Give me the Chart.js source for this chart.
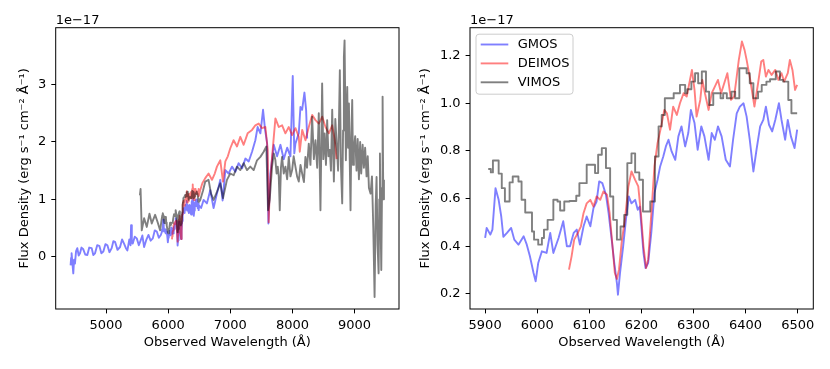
<!DOCTYPE html>
<html>
<head>
<meta charset="utf-8">
<script src="https://cdn.jsdelivr.net/npm/chart.js@4.4.1/dist/chart.umd.min.js"></script>
<style>
  body { margin: 0; background: #fff; }
  .panel { position: absolute; top: 0; width: 415px; height: 369px; }
</style>
</head>
<body>
<div class="panel" style="left:0"><canvas id="leftChart" width="415" height="369"></canvas></div>
<div class="panel" style="left:415px"><canvas id="rightChart" width="415" height="369"></canvas></div>
<script>
// spectra, flux in units of 1e-17 erg/s/cm2/A
const gmosWave = [4430,4438,4446,4458,4473,4486,4500,4518,4538,4560,4581,4605,4634,4665,4699,4730,4769,4795,4823,4858,
  4892,4925,4957,4990,5022,5055,5091,5118,5145,5185,5226,5258,5290,5320,5344,5375,5395,5403,5415,5430,
  5462,5495,5528,5559,5585,5613,5650,5683,5718,5753,5785,5817,5850,5882,
  5900,5903,5910,5914,5920,5926,5931,5935,5942,5950,5956,5964,5974,5980,5986,5993,5997,6002,6009,6018,6025,6031,6041,6050,6057,6063,6070,6076,6082,6089,
  6095,6102,6108,6114,6119,6125,6132,6137,6143,6148,6153,6155,6159,6165,6171,6176,6181,6188,6193,6197,6204,6208,6213,6219,6225,6231,6236,6242,6247,6252,
  6258,6265,6271,6277,6284,6290,6295,6302,6308,6315,6321,6329,6335,6341,6347,6354,6362,6370,6376,6383,6389,6396,6402,6408,6415,6421,6428,6434,6439,6445,
  6451,6457,6464,6469,6476,6481,6487,6494,6499,
  6530,6570,6624,6677,6731,6785,6839,6876,6920,6973,7027,7081,7134,7189,7243,7296,7350,7403,7440,7484,
  7527,7560,7592,7613,7645,7699,7753,7807,7860,7915,7968,8005,8030,8048,8102,8129,8156,8193,8220,8237];
const gmosFlux = [-0.15,-0.02,0.06,-0.10,-0.29,-0.05,-0.12,0.10,0.15,0.02,0.06,0.16,0.13,0.04,0.03,0.16,0.15,0.03,0.06,0.20,
  0.19,0.06,0.09,0.22,0.20,0.08,0.15,0.27,0.26,0.12,0.17,0.30,0.23,0.15,0.11,0.30,0.20,0.55,0.25,0.23,
  0.35,0.32,0.20,0.29,0.37,0.17,0.30,0.38,0.28,0.32,0.46,0.44,0.33,0.38,
  0.435,0.477,0.449,0.47,0.644,0.595,0.525,0.44,0.456,0.477,0.428,0.407,0.442,0.407,0.358,0.288,0.253,0.33,0.379,0.372,0.456,0.372,0.435,0.505,0.40,0.40,0.456,0.47,0.407,0.484,
  0.525,0.484,0.56,0.588,0.672,0.665,0.616,0.54,0.428,0.33,0.246,0.197,0.288,0.40,0.525,0.609,0.58,0.595,0.553,0.567,0.372,0.309,0.33,0.456,0.623,0.679,0.735,0.777,0.819,0.847,
  0.798,0.763,0.861,0.903,0.819,0.875,0.972,0.917,0.805,0.903,0.861,0.763,0.875,0.847,0.903,0.861,0.763,0.735,0.847,0.958,0.986,1.0,0.944,0.847,0.714,0.805,0.903,0.93,0.986,0.91,
  0.882,0.93,1.0,0.93,0.847,0.93,0.861,0.812,0.889,
  0.85,0.99,0.93,1.16,0.85,1.10,1.34,0.98,1.51,1.45,1.57,1.48,1.63,1.54,1.71,1.66,1.83,2.03,2.26,2.15,
  2.56,2.21,1.98,0.58,1.45,1.95,1.75,1.95,1.70,1.90,1.75,3.15,1.80,1.97,2.15,2.61,2.56,2.86,2.56,2.06];

const deimosWave = [6061,6066,6071,6078,6084,6089,6095,6102,6108,6114,6121,6127,6134,6139,6144,6149,6153,6157,6162,6169,
  6175,6181,6188,6194,6199,6204,6209,6213,6220,6225,6231,6238,6244,6249,6255,6261,6268,6274,6281,6287,
  6292,6297,6302,6306,6313,6317,6322,6329,6335,6341,6347,6353,6359,6365,6372,6378,6383,6387,6393,6398,
  6402,6409,6413,6417,6424,6430,6434,6439,6444,6450,6457,6463,6469,6474,6481,6485,6490,6495,6499,
  6516,6550,6597,6650,6705,6750,6785,6839,6882,6920,6960,7000,7053,7108,7161,7215,7279,7350,7403,7457,
  7511,7565,7602,7618,7635,7672,7726,7780,7834,7887,7941,7995,8049,8102,8118,8157,8210,8263,8318,8371,
  8425,8480,8532,8586,8640,8682,8710];
const deimosFlux = [0.302,0.358,0.428,0.456,0.484,0.54,0.58,0.595,0.567,0.609,0.595,0.63,0.616,0.54,0.414,0.288,0.263,0.302,0.414,0.525,
  0.651,0.714,0.679,0.651,0.54,0.40,0.309,0.344,0.567,0.735,0.833,0.903,0.972,0.958,0.889,0.986,0.951,1.0,1.042,1.028,
  1.084,1.14,1.056,0.944,1.014,1.098,1.042,0.972,1.042,1.07,1.098,1.042,1.084,1.126,1.014,1.028,1.112,1.182,1.259,1.224,
  1.182,1.098,1.042,0.986,1.084,1.175,1.182,1.112,1.14,1.119,1.14,1.098,1.126,1.091,1.126,1.182,1.14,1.056,1.077,
  1.16,1.28,1.37,1.45,1.34,1.45,1.57,1.68,1.31,1.66,1.75,1.89,2.03,1.92,2.09,1.95,2.15,2.21,2.29,2.32,
  2.24,2.26,1.86,0.60,1.20,1.74,2.41,2.26,2.29,2.15,2.26,2.12,2.24,2.09,1.83,2.21,2.03,2.26,2.47,2.38,
  2.32,2.44,2.26,2.15,2.29,2.03,1.70];

// VIMOS: in 5900-6500 each point is the left edge of a bin
const vimosWave = [5545,5556,5575,5613,5656,5699,5736,5790,5828,5871,5895,
  5906,5911,5915,5926,5932,5938,5947,5953,5964,5970,5977,5990,5994,6002,6009,6013,6020,6031,6039,6044,
  6052,6062,6075,6081,6095,6111,6117,6124,6132,6140,6146,6153,6160,6167,6173,6181,6188,6196,6203,6217,
  6226,6233,6239,6245,6262,6274,6284,6288,6296,6303,6309,6316,6324,6330,6338,6352,6357,6364,6373,6380,
  6388,6402,6408,6415,6424,6431,6440,6447,6458,6466,6472,6482,6488,6499,
  6516,6560,6597,6650,6690,6731,6785,6839,6882,6946,7000,7054,7107,7161,7215,7269,7322,7376,7430,7484,
  7537,7580,7607,7634,7672,7700,7726,7745,7763,7780,7796,7815,7833,7860,7887,7915,7941,7968,7995,8020,
  8048,8075,8102,8130,8156,8185,8209,8235,8263,8290,8317,8345,8371,8398,8424,8451,8478,8497,8516,8540,
  8559,8580,8602,8620,8640,8667,8690,8709,8735,8763,8780,8801,8815,8828,8839,8860,8872,8882,8895,8909,
  8922,8935,8948,8962,8975,8989,9010,9032,9050,9070,9090,9107,9130,9150,9170,9193,9212,9231,9258,9280,
  9301,9322,9340,9354,9370,9387,9398,9408,9420,9430,9442,9451,9462,9473];
const vimosFlux = [1.07,1.18,0.46,0.67,0.52,0.75,0.58,0.73,0.61,0.46,0.65,
  0.724,0.71,0.76,0.705,0.644,0.588,0.668,0.693,0.672,0.595,0.542,0.462,0.428,0.407,0.435,0.47,0.511,0.595,0.588,0.55,
  0.588,0.59,0.612,0.665,0.742,0.707,0.784,0.812,0.728,0.609,0.511,0.428,0.483,0.532,0.749,0.79,0.71,0.679,0.546,0.588,
  0.777,0.903,0.951,1.021,1.042,1.077,1.042,1.059,1.091,1.126,1.084,1.133,1.049,0.993,1.042,1.021,1.042,1.021,1.049,1.021,
  1.147,1.126,1.084,1.021,1.049,1.077,1.091,1.101,1.133,1.098,1.091,1.014,0.958,0.958,
  0.99,1.15,1.31,1.34,1.10,0.99,1.13,1.28,1.02,1.34,1.45,1.42,1.57,1.51,1.63,1.51,1.57,1.51,1.68,1.74,
  1.83,1.92,0.81,0.99,1.57,1.80,1.68,1.45,1.57,1.40,0.81,1.55,1.74,1.45,1.57,1.35,1.74,1.40,1.51,1.75,
  1.57,1.40,1.31,1.60,1.45,1.30,1.74,1.55,1.97,1.60,2.44,1.70,2.03,1.55,2.50,0.81,3.02,1.70,2.15,1.60,
  2.38,1.75,1.86,1.50,2.56,1.31,2.40,2.03,1.50,3.25,1.60,0.93,2.20,3.48,3.77,1.68,2.50,2.96,1.90,2.67,
  1.70,0.81,2.10,2.73,1.60,1.86,2.10,1.50,2.05,1.35,2.00,1.45,1.95,1.55,1.90,1.40,1.75,1.20,1.10,1.40,
  0.52,-0.70,0.90,1.39,0.20,-0.29,1.00,1.80,0.50,-0.23,1.20,2.79,1.00,1.34];

const seriesNames = ['GMOS', 'DEIMOS', 'VIMOS'];
const leftXTicks = [5000, 6000, 7000, 8000, 9000];
const leftYTicks = [0, 1, 2, 3];
const rightXTicks = [5900, 6000, 6100, 6200, 6300, 6400, 6500];
const rightYTicks = [0.2, 0.4, 0.6, 0.8, 1.0, 1.2];
const offsetLabel = '1e\u221217';
const xTitle = 'Observed Wavelength (\u00c5)';
const yTitle = 'Flux Density (erg s\u207b\u00b9 cm\u207b\u00b2 \u00c5\u207b\u00b9)';

const FONT = 'DejaVu Sans';
const FSIZE = 13;
Chart.defaults.font.family = FONT;
Chart.defaults.font.size = FSIZE;
Chart.defaults.color = '#000';

// pick points inside a wavelength window
function points(wave, flux, lo, hi) {
  const out = [];
  for (let i = 0; i < wave.length; i++) {
    if (wave[i] >= lo && wave[i] <= hi) out.push({ x: wave[i], y: flux[i] });
  }
  return out;
}

// axes frame and the 1e-17 offset label
const framePlugin = {
  id: 'frame',
  afterDatasetsDraw(chart) {
    const { ctx, chartArea: a } = chart;
    ctx.save();
    ctx.strokeStyle = '#000';
    ctx.lineWidth = 1;
    ctx.strokeRect(a.left, a.top, a.right - a.left, a.bottom - a.top);
    ctx.fillStyle = '#000';
    ctx.font = FSIZE + 'px "' + FONT + '"';
    ctx.textBaseline = 'alphabetic';
    ctx.textAlign = 'left';
    ctx.fillText(offsetLabel, a.left, a.top - 3.7);
    ctx.restore();
  }
};

// matplotlib style legend box in the upper left corner
const legendPlugin = {
  id: 'boxLegend',
  afterDraw(chart) {
    const { ctx, chartArea: a } = chart;
    const x0 = a.left + 6, y0 = a.top + 6.5, w = 97, h = 60;
    ctx.save();
    ctx.fillStyle = 'rgba(255,255,255,0.8)';
    ctx.strokeStyle = '#cccccc';
    ctx.lineWidth = 1;
    ctx.beginPath();
    if (ctx.roundRect) ctx.roundRect(x0, y0, w, h, 3); else ctx.rect(x0, y0, w, h);
    ctx.fill();
    ctx.stroke();
    chart.data.datasets.forEach((ds, i) => {
      const y = y0 + 10.3 + i * 18.9;
      ctx.strokeStyle = ds.borderColor;
      ctx.lineWidth = ds.borderWidth;
      ctx.beginPath();
      ctx.moveTo(x0 + 4.7, y);
      ctx.lineTo(x0 + 32.3, y);
      ctx.stroke();
      ctx.fillStyle = '#000';
      ctx.font = FSIZE + 'px "' + FONT + '"';
      ctx.textBaseline = 'middle';
      ctx.fillText(ds.label, x0 + 41.7, y + 0.5);
    });
    ctx.restore();
  }
};

function makeChart(canvasId, cfg) {
  const colors = ['rgba(0,0,255,0.5)', 'rgba(255,0,0,0.5)', 'rgba(0,0,0,0.5)'];
  const waves = [gmosWave, deimosWave, vimosWave];
  const fluxes = [gmosFlux, deimosFlux, vimosFlux];
  const datasets = seriesNames.map((name, i) => ({
    label: name,
    data: points(waves[i], fluxes[i], cfg.lo, cfg.hi),
    borderColor: colors[i],
    borderWidth: 1.9,
    borderJoinStyle: 'round',
    pointRadius: 0,
    tension: 0,
    stepped: (i === 2 && cfg.stepVimos) ? 'before' : false,
    order: 3 - i
  }));

  const tickStyle = { drawOnChartArea: false, drawTicks: true, tickLength: 4.4, color: '#000', lineWidth: 1 };

  return new Chart(document.getElementById(canvasId), {
    type: 'line',
    data: { datasets },
    options: {
      responsive: false,
      animation: false,
      devicePixelRatio: 1,
      layout: { padding: { left: 0, right: cfg.padRight, top: 27.7, bottom: 0 } },
      plugins: { legend: { display: false }, tooltip: { enabled: false } },
      scales: {
        x: {
          type: 'linear',
          min: cfg.xMin,
          max: cfg.xMax,
          afterBuildTicks: s => { s.ticks = cfg.xTicks.map(v => ({ value: v })); },
          afterFit: s => { s.height = 60; },
          grid: tickStyle,
          border: { display: false },
          ticks: { padding: 4.5, maxRotation: 0, autoSkip: false, callback: v => String(v) },
          title: { display: true, text: xTitle, padding: { top: 0, bottom: 18.5 } }
        },
        y: {
          type: 'linear',
          min: cfg.yMin,
          max: cfg.yMax,
          afterBuildTicks: s => { s.ticks = cfg.yTicks.map(v => ({ value: v })); },
          afterFit: s => { s.width = cfg.axisWidth; },
          grid: tickStyle,
          border: { display: false },
          ticks: { padding: 5, autoSkip: false, callback: cfg.yFormat },
          title: { display: true, text: yTitle, padding: { top: cfg.yTitlePad, bottom: 0 } }
        }
      }
    },
    plugins: cfg.legend ? [framePlugin, legendPlugin] : [framePlugin]
  });
}

makeChart('leftChart', {
  lo: 0, hi: 1e9, stepVimos: false,
  xMin: 4190, xMax: 9715, yMin: -0.91, yMax: 3.99,
  xTicks: leftXTicks, yTicks: leftYTicks, yFormat: v => String(v),
  axisWidth: 55.7, padRight: 16, yTitlePad: 16.5, legend: false
});

makeChart('rightChart', {
  lo: 5900, hi: 6500, stepVimos: true,
  xMin: 5871, xMax: 6530, yMin: 0.137, yMax: 1.317,
  xTicks: rightXTicks, yTicks: rightYTicks, yFormat: v => v.toFixed(1),
  axisWidth: 55, padRight: 16.7, yTitlePad: 3.2, legend: true
});
</script>
</body>
</html>
